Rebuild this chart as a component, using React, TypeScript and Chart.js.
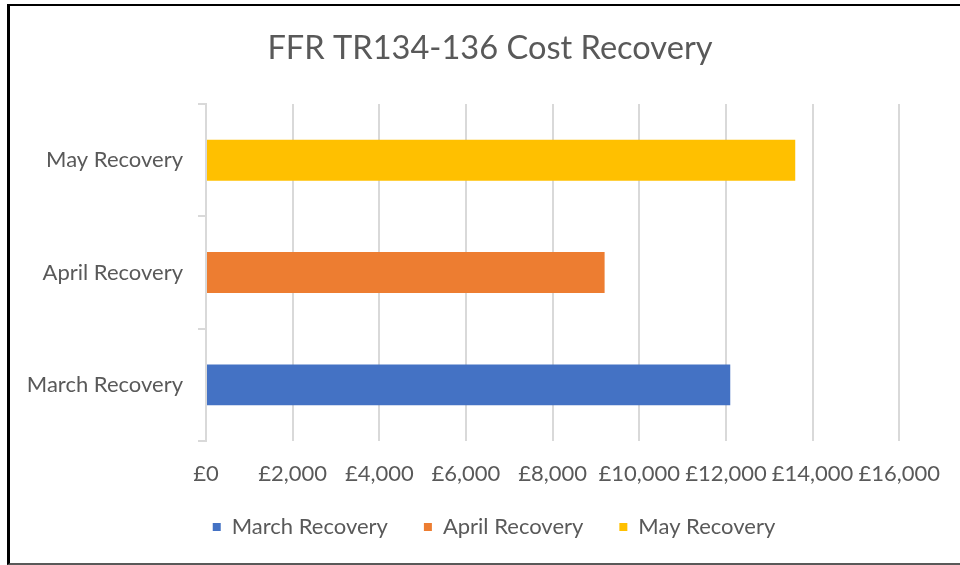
import React, { useEffect, useRef } from "react";
import { Chart, registerables } from "chart.js";

Chart.register(...registerables);

const chartTitle = "FFR TR134-136 Cost Recovery";
const categories = ["March Recovery", "April Recovery", "May Recovery"];
const seriesNames = ["March Recovery", "April Recovery", "May Recovery"];
const recoveryValues = [12100, 9200, 13600];
const seriesColors = ["#4472C4", "#ED7D31", "#FFC000"];
const axisMin = 0;
const axisMax = 16000;
const axisStep = 2000;

const FONT = "Lato, 'Open Sans', sans-serif";
const TEXT = "#595959";
const GRID = "#d9d9d9";

// Nudges full-width boxes so their centres match the original layout
const boxShift = {
  id: "boxShift",
  afterLayout(chart: any) {
    const t = chart.titleBlock;
    if (t) {
      t.left += 30;
      t.right += 30;
    }
    const l = chart.legend;
    if (l) {
      l.left += 34;
      l.right += 34;
      l.top -= 11;
      l.bottom -= 11;
    }
  },
};

export default function App() {
  const canvasRef = useRef<HTMLCanvasElement | null>(null);

  useEffect(() => {
    document.body.style.margin = "0";
    document.body.style.overflow = "hidden";
    const canvas = canvasRef.current;
    if (!canvas) return;

    const datasets = seriesNames.map((name, i) => ({
      label: name,
      data: categories.map((_, j) => (j === i ? recoveryValues[i] : null)),
      backgroundColor: seriesColors[i],
      borderWidth: 0,
      grouped: false,
      categoryPercentage: 1,
      barPercentage: 0.364,
    }));

    const chart = new Chart(canvas, {
      type: "bar",
      data: { labels: categories, datasets },
      plugins: [boxShift],
      options: {
        indexAxis: "y",
        responsive: false,
        animation: false,
        layout: { padding: { left: 20, right: 60, top: 0, bottom: 6 } },
        plugins: {
          title: {
            display: true,
            text: chartTitle,
            color: TEXT,
            font: { family: FONT, size: 32.6, weight: "normal" },
            padding: { top: 29, bottom: 36 },
          },
          legend: {
            position: "bottom",
            labels: {
              color: TEXT,
              font: { family: FONT, size: 22 },
              boxWidth: 8,
              boxHeight: 8,
              padding: 36,
            },
          },
          tooltip: { enabled: false },
        },
        scales: {
          x: {
            min: axisMin,
            max: axisMax,
            afterFit: (scale: any) => {
              scale.height = 50;
            },
            ticks: {
              stepSize: axisStep,
              color: TEXT,
              font: { family: FONT, size: 22 },
              padding: 20,
              maxRotation: 0,
              callback: (v: any) => "£" + Number(v).toLocaleString("en-GB"),
            },
            grid: { color: GRID, lineWidth: 2, drawTicks: false },
            border: { display: false },
          },
          y: {
            reverse: true,
            afterFit: (scale: any) => {
              scale.width = 186;
            },
            ticks: {
              color: TEXT,
              font: { family: FONT, size: 22 },
              padding: 15,
            },
            grid: {
              color: GRID,
              lineWidth: 2,
              drawOnChartArea: false,
              drawTicks: true,
              tickLength: 8,
              offset: true,
            },
            border: { display: true, color: GRID, width: 2 },
          },
        },
      },
    });
    return () => chart.destroy();
  }, []);

  return (
    <div style={{ position: "relative", width: 960, height: 565, background: "#fff" }}>
      <canvas ref={canvasRef} width={960} height={565} style={{ display: "block" }} />
      <div
        style={{
          position: "absolute",
          left: 7,
          top: 4,
          right: 0,
          bottom: 0,
          boxSizing: "border-box",
          borderTop: "2px solid #000",
          borderLeft: "3px solid #000",
          borderBottom: "2px solid #595959",
          pointerEvents: "none",
        }}
      />
    </div>
  );
}
